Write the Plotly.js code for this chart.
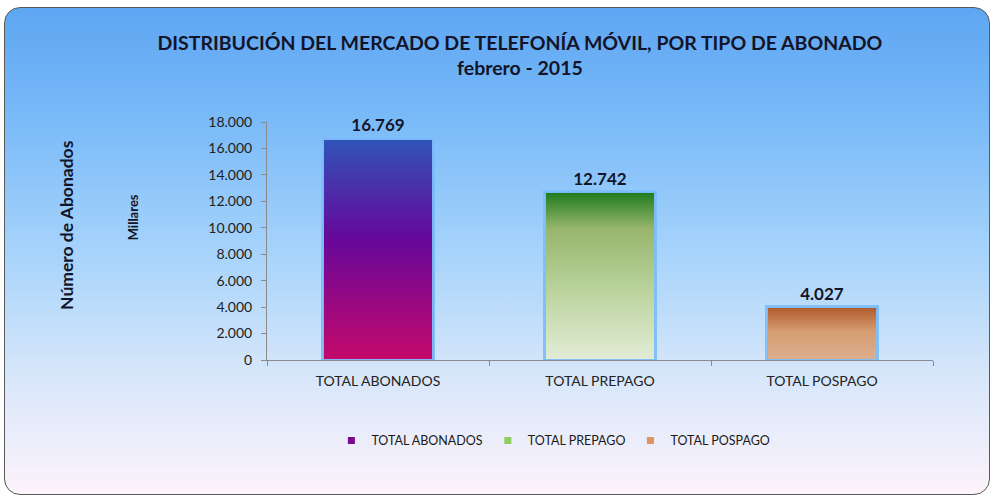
<!DOCTYPE html>
<html>
<head>
<meta charset="utf-8">
<script src="https://cdn.plot.ly/plotly-3.0.1.min.js"></script>
<style>
  html, body { margin:0; padding:0; background:#ffffff; }
  #wrap { position:relative; width:996px; height:500px; overflow:hidden; }
  #bg { position:absolute; left:4px; top:7px; width:984px; height:486px;
        border:1.5px solid #5a5a5a; border-radius:16px;
        background:linear-gradient(to bottom, #5ea6f2 0%, #78b9f8 22%, #a6d3fb 50%, #d6e6fa 75%, #fdf3fb 100%); }
  #chart { position:absolute; left:0; top:0; width:996px; height:500px; }
</style>
</head>
<body>
<div id="wrap"><div id="bg"></div><div id="chart"></div></div>
<script>
// ---- data ----
const categories = ['TOTAL ABONADOS', 'TOTAL PREPAGO', 'TOTAL POSPAGO'];
const values = [16769, 12742, 4027];
const seriesNames = ['TOTAL ABONADOS', 'TOTAL PREPAGO', 'TOTAL POSPAGO'];
const yTickVals = [0, 2000, 4000, 6000, 8000, 10000, 12000, 14000, 16000, 18000];
const titleLine1 = 'DISTRIBUCIÓN DEL MERCADO DE TELEFONÍA MÓVIL, POR TIPO DE ABONADO';
const titleLine2 = 'febrero - 2015';
const yTitle = 'Número de Abonados';
const yUnit = 'Millares';

// ---- styles ----
const legendColors = ['#7a0a8e', '#8fcc62', '#e0935e'];
const gradients = [
  [['0', '#2f55b8'], ['0.45', '#66089a'], ['1', '#c4096a']],
  [['0', '#1b7a1c'], ['0.22', '#98b56c'], ['0.6', '#bcd49e'], ['1', '#e2ecd6']],
  [['0', '#b0582a'], ['0.45', '#d59c70'], ['1', '#ddae8e']]
];
const FONT = 'Lato, "Open Sans", sans-serif';

const barTraces = categories.map((c, i) => ({
  type: 'bar',
  name: seriesNames[i],
  x: [c],
  y: [values[i]],
  width: 0.5,
  showlegend: false,
  marker: { color: legendColors[i], line: { color: 'rgba(125,190,250,0.95)', width: 3 } },
  texttemplate: '%{y:,d}',
  textposition: 'outside',
  cliponaxis: false,
  textfont: { family: FONT, size: 17, color: '#15152a', weight: 'bold' },
  hoverinfo: 'skip'
}));
const legendTraces = seriesNames.map((n, i) => ({
  type: 'scatter', mode: 'markers', name: n,
  x: [categories[i]], y: [null],
  marker: { symbol: 'square', size: 7, color: legendColors[i] },
  hoverinfo: 'skip'
}));

const layout = {
  width: 996, height: 500,
  paper_bgcolor: 'rgba(0,0,0,0)',
  plot_bgcolor: 'rgba(0,0,0,0)',
  separators: ',.',
  barmode: 'stack',
  showlegend: true,
  margin: { l: 267, r: 63, t: 122, b: 140 },
  title: {
    text: '<b>' + titleLine1 + '</b><br><b>' + titleLine2 + '</b>',
    font: { family: FONT, size: 19.5, color: '#141428' },
    x: 0.522, xanchor: 'center', y: 0.9, yanchor: 'middle'
  },
  xaxis: {
    type: 'category',
    showline: true, linecolor: '#8a8a8a', linewidth: 1,
    ticks: 'outside', tickson: 'boundaries', ticklen: 5, tickcolor: '#8a8a8a',
    ticklabelstandoff: 8,
    tickfont: { family: FONT, size: 14, color: '#222' },
    showgrid: false, zeroline: false, fixedrange: true
  },
  yaxis: {
    range: [0, 18000],
    tickvals: yTickVals,
    tickformat: ',d',
    showline: true, linecolor: '#8a8a8a', linewidth: 1,
    ticks: 'outside', ticklen: 5, tickcolor: '#8a8a8a',
    ticklabelstandoff: 6,
    tickfont: { family: FONT, size: 14, color: '#222' },
    showgrid: false, zeroline: false, fixedrange: true
  },
  legend: {
    orientation: 'h', x: 0.43, xanchor: 'center', y: -0.34, yanchor: 'middle',
    font: { family: FONT, size: 12.5, color: '#1a1a1a' },
    bgcolor: 'rgba(0,0,0,0)', itemwidth: 30, traceorder: 'normal'
  },
  annotations: [
    { text: '<b>' + yTitle + '</b>', xref: 'paper', yref: 'paper', x: -0.302, y: 0.567,
      textangle: -90, showarrow: false, xanchor: 'center', yanchor: 'middle',
      font: { family: FONT, size: 17.5, color: '#141428' } },
    { text: '<b>' + yUnit + '</b>', xref: 'paper', yref: 'paper', x: -0.201, y: 0.60,
      textangle: -90, showarrow: false, xanchor: 'center', yanchor: 'middle',
      font: { family: FONT, size: 13, color: '#141428' } }
  ]
};

function applyGradients(gd) {
  const ns = 'http://www.w3.org/2000/svg';
  const svg = gd.querySelector('svg.main-svg');
  let defs = document.getElementById('bar-grad-defs');
  if (!defs) {
    defs = document.createElementNS(ns, 'defs');
    defs.setAttribute('id', 'bar-grad-defs');
    svg.insertBefore(defs, svg.firstChild);
    gradients.forEach((stops, i) => {
      const lg = document.createElementNS(ns, 'linearGradient');
      lg.setAttribute('id', 'bargrad' + i);
      lg.setAttribute('x1', '0'); lg.setAttribute('y1', '0');
      lg.setAttribute('x2', '0'); lg.setAttribute('y2', '1');
      stops.forEach(s => {
        const st = document.createElementNS(ns, 'stop');
        st.setAttribute('offset', s[0]);
        st.setAttribute('stop-color', s[1]);
        lg.appendChild(st);
      });
      defs.appendChild(lg);
    });
  }
  gd.querySelectorAll('g.barlayer g.trace').forEach((t, i) => {
    t.querySelectorAll('path').forEach(p => {
      p.setAttribute('fill', 'url(#bargrad' + i + ')');
      p.style.setProperty('fill', 'url(#bargrad' + i + ')');
    });
  });
}

Plotly.newPlot('chart', barTraces.concat(legendTraces), layout, { displayModeBar: false, staticPlot: true }).then(gd => {
  applyGradients(gd);
  setTimeout(() => applyGradients(gd), 50);
});
</script>
</body>
</html>
